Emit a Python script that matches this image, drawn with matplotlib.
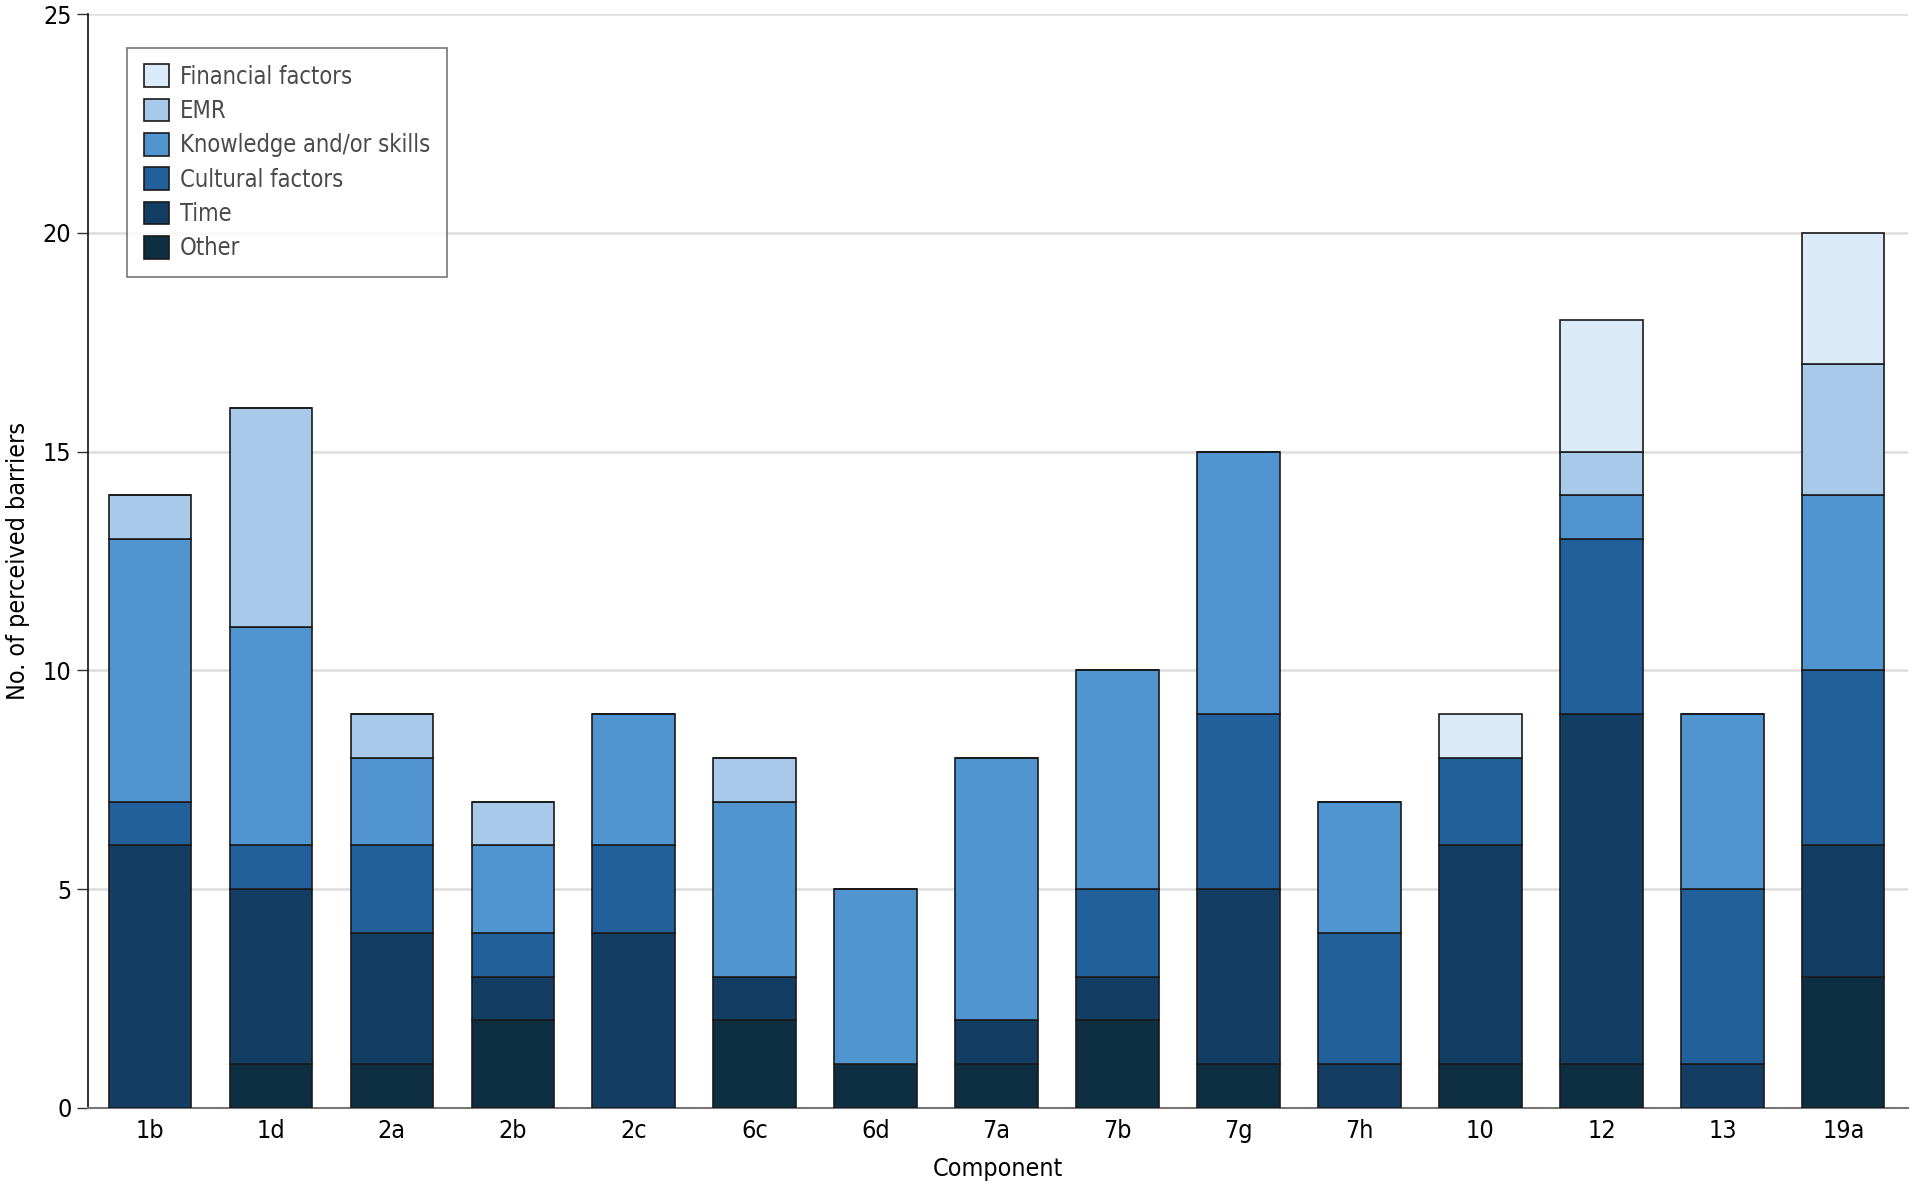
import matplotlib
matplotlib.use('Agg')
import matplotlib.pyplot as plt
import numpy as np

plt.rcParams['font.family'] = ['DejaVu Sans']
plt.rcParams['font.stretch'] = 'condensed'

# data, stacked bottom -> top
components = ['1b', '1d', '2a', '2b', '2c', '6c', '6d', '7a', '7b', '7g', '7h', '10', '12', '13', '19a']
other = [0, 1, 1, 2, 0, 2, 1, 1, 2, 1, 0, 1, 1, 0, 3]
time_ = [6, 4, 3, 1, 4, 1, 0, 1, 1, 4, 1, 5, 8, 1, 3]
cultural = [1, 1, 2, 1, 2, 0, 0, 0, 2, 4, 3, 2, 4, 4, 4]
knowledge = [6, 5, 2, 2, 3, 4, 4, 6, 5, 6, 3, 0, 1, 4, 4]
emr = [1, 5, 1, 1, 0, 1, 0, 0, 0, 0, 0, 0, 1, 0, 3]
financial = [0, 0, 0, 0, 0, 0, 0, 0, 0, 0, 0, 1, 3, 0, 3]

series_names = ['Other', 'Time', 'Cultural factors', 'Knowledge and/or skills', 'EMR', 'Financial factors']
series_vals = [other, time_, cultural, knowledge, emr, financial]
colors = ['#0e2e42', '#133d63', '#22609c', '#5095d0', '#a8c9ea', '#dbeaf8']

fig = plt.figure(figsize=(19.14, 11.87), dpi=100)
ax = fig.add_axes([0.046, 0.0666, 0.9509, 0.9216])

x = np.arange(len(components))
bottom = np.zeros(len(components))
handles = []
for name, vals, col in zip(series_names, series_vals, colors):
    vals = np.array(vals, dtype=float)
    b = ax.bar(x, vals, 0.68, bottom=bottom, color=col, edgecolor='#1a1a1a',
               linewidth=1.2, label=name, zorder=3)
    handles.append(b)
    bottom += vals

ax.set_xlim(-0.51, 14.535)
ax.set_ylim(0, 25)
ax.set_yticks([0, 5, 10, 15, 20, 25])
ax.set_xticks(x)
ax.set_xticklabels(components)
ax.tick_params(axis='y', length=8, width=1, labelsize=18, pad=4, color='#333333')
ax.tick_params(axis='x', length=0, labelsize=18, pad=8)

ax.yaxis.grid(True, color='#dddddd', linewidth=1.8, zorder=0)
ax.set_axisbelow(True)
for s in ['top', 'right']:
    ax.spines[s].set_visible(False)
ax.spines['left'].set_color('#111111')
ax.spines['left'].set_linewidth(1.2)
ax.spines['bottom'].set_color('#777777')
ax.spines['bottom'].set_linewidth(1.5)

ax.set_xlabel('Component', fontsize=18, labelpad=10)
ax.set_ylabel('No. of perceived barriers', fontsize=18, labelpad=9)

leg = ax.legend(handles[::-1], series_names[::-1], loc='upper left',
                bbox_to_anchor=(0.0214, 0.969), borderaxespad=0, fontsize=17,
                frameon=True, fancybox=False, handlelength=1.1, handleheight=1.1,
                handletextpad=0.45, labelspacing=0.42, borderpad=0.7)
leg.get_frame().set_edgecolor('#555555')
leg.get_frame().set_linewidth(1.2)
for t in leg.get_texts():
    t.set_color('#4a4a4a')

fig.savefig('out.png', dpi=100)
